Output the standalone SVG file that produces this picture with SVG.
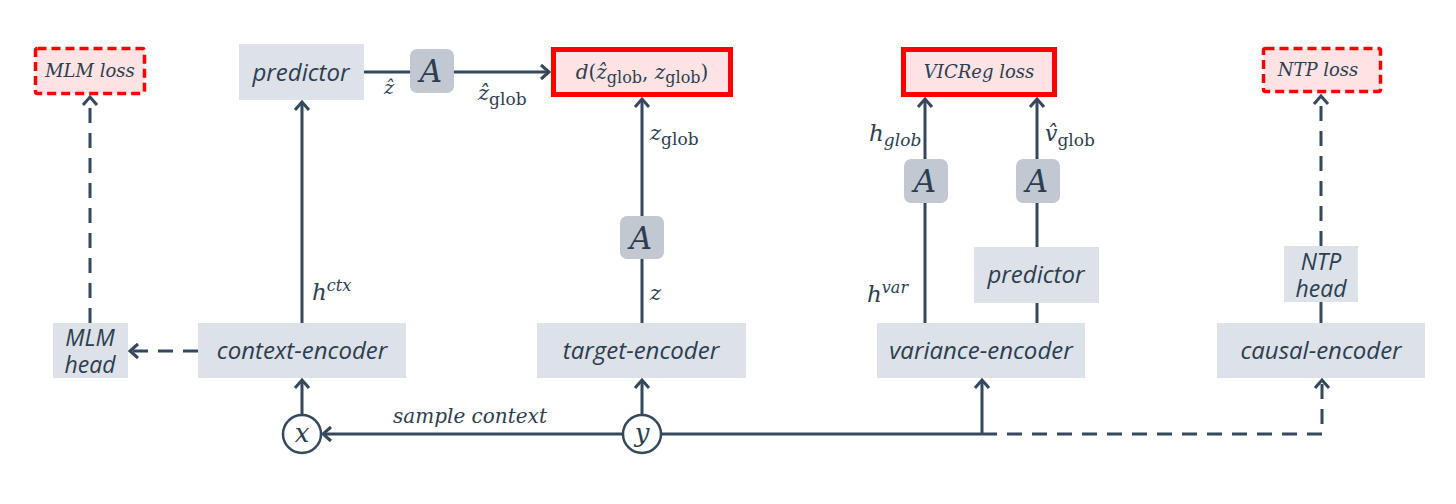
<svg xmlns="http://www.w3.org/2000/svg" width="1456" height="504" viewBox="0 0 1456 504">
<style>
.node{fill:#dde1e8}
.abox{fill:#c2c8d2}
.lossS{fill:#fde3e3;stroke:#ff0000;stroke-width:5}
.lossD{fill:#fde3e3;stroke:#ff0000;stroke-width:3.5;stroke-dasharray:9 5}
.lbl{font-family:"Open Sans","Noto Sans",sans-serif;font-style:italic;font-size:24px;fill:#2c3e50;text-anchor:middle}
.lbl2{font-family:"Open Sans","Noto Sans",sans-serif;font-style:italic;font-size:23px;fill:#2c3e50;text-anchor:middle}
.mth{font-family:"DejaVu Serif","Liberation Serif",serif;font-style:italic;fill:#2c3e50}
.amark{font-family:"DejaVu Serif","Liberation Serif",serif;font-style:italic;font-size:31px;fill:#2c3e50;text-anchor:middle}
.loss{font-family:"DejaVu Serif","Liberation Serif",serif;font-style:italic;font-size:18px;fill:#2c3e50;text-anchor:middle}
.up{font-style:normal}
.ln{fill:none;stroke:#34495e;stroke-width:3}
.dash{stroke-dasharray:15 10}
.circ{fill:#fff;stroke:#34495e;stroke-width:2.5}
</style>
<defs>
<marker id="arr" viewBox="-12 -10 14 20" markerWidth="14" markerHeight="20" refX="0" refY="0" orient="auto" markerUnits="userSpaceOnUse">
<path d="M-8,-7 L0,0 L-8,7" fill="none" stroke="#34495e" stroke-width="3"/>
</marker>
</defs>

<g id="connectors">
<path class="ln dash" d="M90,323 V97" marker-end="url(#arr)"/>
<path class="ln dash" d="M198,351 H130" marker-end="url(#arr)"/>
<path class="ln" d="M302,323 V102" marker-end="url(#arr)"/>
<path class="ln" d="M302,415 V380" marker-end="url(#arr)"/>
<path class="ln" d="M622,434 H323" marker-end="url(#arr)"/>
<path class="ln" d="M364,72 H410"/>
<path class="ln" d="M454,72 H549" marker-end="url(#arr)"/>
<path class="ln" d="M642,323 V259"/>
<path class="ln" d="M642,216 V99" marker-end="url(#arr)"/>
<path class="ln" d="M642,415 V380" marker-end="url(#arr)"/>
<path class="ln" d="M661,434 H982"/>
<path class="ln" d="M982,434 V380" marker-end="url(#arr)"/>
<path class="ln dash" d="M982,434 H1322 V380" marker-end="url(#arr)"/>
<path class="ln" d="M925,323 V203"/>
<path class="ln" d="M925,159 V99" marker-end="url(#arr)"/>
<path class="ln" d="M1037,323 V303"/>
<path class="ln" d="M1037,247 V203"/>
<path class="ln" d="M1037,159 V99" marker-end="url(#arr)"/>
<path class="ln" d="M1321,323 V302"/>
<path class="ln dash" d="M1321,246 V96" marker-end="url(#arr)"/>
</g>

<g id="mlm-loss">
<rect class="lossD" x="35.5" y="48.5" width="109" height="45" rx="2"/>
<text class="loss" x="90" y="77">MLM loss</text>
</g>
<g id="predictor-top">
<rect class="node" x="239" y="44" width="125" height="56"/>
<text class="lbl" x="301" y="81">predictor</text>
</g>
<g id="a-top">
<rect class="abox" x="410" y="49" width="44" height="44" rx="7"/>
<text class="amark" x="431" y="82">A</text>
</g>
<g id="dist-loss">
<rect class="lossS" x="553.5" y="49.5" width="177" height="45"/>
<text class="mth" x="642" y="79" text-anchor="middle" font-size="20">d<tspan class="up">(</tspan>ẑ<tspan class="up" font-size="16" dy="4">glob</tspan><tspan class="up" dy="-4">, </tspan>z<tspan class="up" font-size="16" dy="4">glob</tspan><tspan class="up" dy="-4">)</tspan></text>
</g>
<g id="vicreg-loss">
<rect class="lossS" x="903.5" y="49.5" width="151" height="45"/>
<text class="loss" x="979" y="78">VICReg loss</text>
</g>
<g id="ntp-loss">
<rect class="lossD" x="1263.5" y="48.5" width="117" height="43" rx="2"/>
<text class="loss" x="1318" y="76">NTP loss</text>
</g>
<g id="a-target">
<rect class="abox" x="620" y="216" width="44" height="43" rx="7"/>
<text class="amark" x="641" y="249">A</text>
</g>
<g id="a-var1">
<rect class="abox" x="904" y="159" width="44" height="44" rx="7"/>
<text class="amark" x="925" y="192">A</text>
</g>
<g id="a-var2">
<rect class="abox" x="1016" y="159" width="44" height="44" rx="7"/>
<text class="amark" x="1037" y="192">A</text>
</g>
<g id="predictor-var">
<rect class="node" x="974" y="247" width="125" height="56"/>
<text class="lbl" x="1036" y="283">predictor</text>
</g>
<g id="ntp-head">
<rect class="node" x="1284" y="246" width="74" height="56"/>
<text class="lbl2" x="1321" y="270">NTP</text>
<text class="lbl2" x="1321" y="297">head</text>
</g>
<g id="mlm-head">
<rect class="node" x="53" y="323" width="75" height="55"/>
<text class="lbl2" x="90" y="346">MLM</text>
<text class="lbl2" x="90" y="373">head</text>
</g>
<g id="context-encoder">
<rect class="node" x="198" y="323" width="208" height="55"/>
<text class="lbl" x="302" y="359">context-encoder</text>
</g>
<g id="target-encoder">
<rect class="node" x="537" y="323" width="209" height="55"/>
<text class="lbl" x="641" y="359">target-encoder</text>
</g>
<g id="variance-encoder">
<rect class="node" x="877" y="323" width="208" height="55"/>
<text class="lbl" x="981" y="359">variance-encoder</text>
</g>
<g id="causal-encoder">
<rect class="node" x="1217" y="323" width="208" height="55"/>
<text class="lbl" x="1321" y="359">causal-encoder</text>
</g>
<g id="x-node">
<circle class="circ" cx="302" cy="434" r="19"/>
<text class="mth" x="302" y="442" text-anchor="middle" font-size="26">x</text>
</g>
<g id="y-node">
<circle class="circ" cx="642" cy="434" r="19"/>
<text class="mth" x="642" y="442" text-anchor="middle" font-size="26">y</text>
</g>

<g id="edge-labels">
<text class="mth" x="389" y="94" text-anchor="middle" font-size="19">ẑ</text>
<text class="mth" x="478" y="100" font-size="21">ẑ<tspan class="up" font-size="17" dy="5">glob</tspan></text>
<text class="mth" x="650" y="140" font-size="21">z<tspan class="up" font-size="17" dy="5">glob</tspan></text>
<text class="mth" x="869" y="141" font-size="23">h<tspan font-size="17" dy="5">glob</tspan></text>
<text class="mth" x="1045" y="141" font-size="22">v̂<tspan class="up" font-size="17" dy="5">glob</tspan></text>
<text class="mth" x="312" y="300" font-size="23">h<tspan font-size="16" dy="-9">ctx</tspan></text>
<text class="mth" x="650" y="300" font-size="21">z</text>
<text class="mth" x="867" y="302" font-size="23">h<tspan font-size="16" dy="-9">var</tspan></text>
<text class="mth" x="470" y="423" text-anchor="middle" font-size="20">sample context</text>
</g>
</svg>
